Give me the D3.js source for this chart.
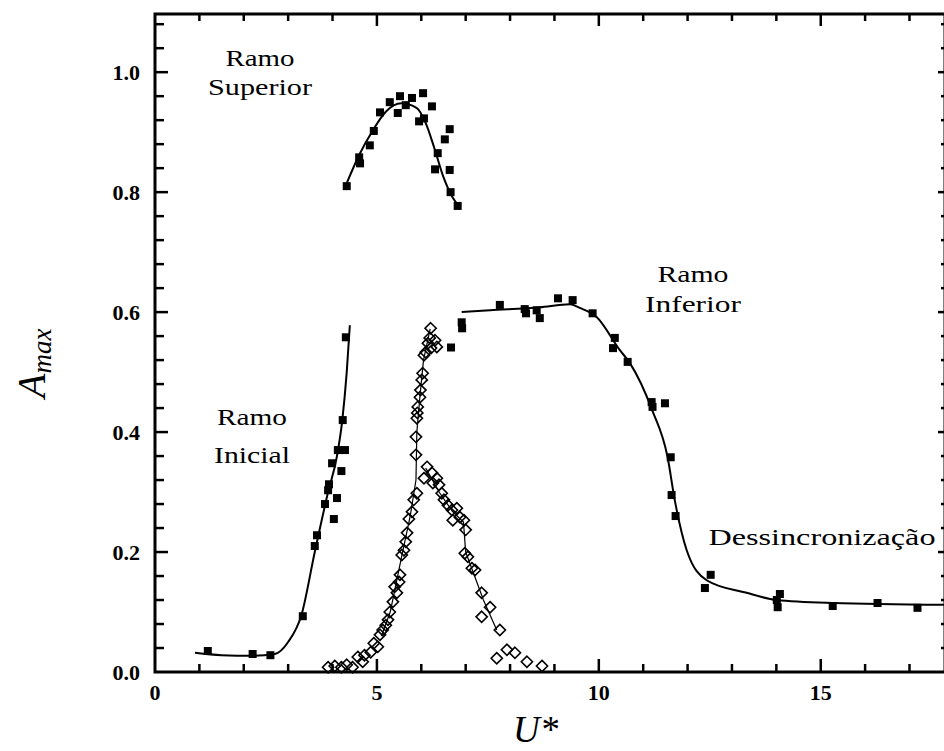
<!DOCTYPE html>
<html>
<head>
<meta charset="utf-8">
<script src="https://cdn.jsdelivr.net/npm/d3@7"></script>
<style>
html,body{margin:0;padding:0;background:#fff;}
svg{display:block;}
</style>
</head>
<body>
<svg id="chart" width="944" height="751"></svg>
<script>
// ---------- DATA ----------
const xMajorTicks = [0, 5, 10, 15];
const yMajorTicks = [0.0, 0.2, 0.4, 0.6, 0.8, 1.0];

// Ramo Inicial (filled squares)
const initialPoints = [
  [1.19,0.035],[2.2,0.030],[2.6,0.028],[3.33,0.093],[3.6,0.21],[3.65,0.228],
  [4.03,0.255],[3.83,0.28],[4.1,0.29],[3.9,0.303],[3.92,0.313],[3.99,0.348],
  [4.2,0.335],[4.12,0.37],[4.28,0.37],[4.23,0.42],[4.3,0.558]
];
const initialCurve = [
  [0.9,0.032],[1.5,0.028],[2.2,0.027],[2.7,0.030],[3.0,0.050],[3.3,0.095],
  [3.6,0.20],[3.9,0.30],[4.1,0.36],[4.22,0.42],[4.32,0.50],[4.39,0.578]
];

// Ramo Superior (filled squares)
const upperPoints = [
  [4.32,0.81],[4.62,0.848],[4.6,0.858],[4.84,0.878],[4.93,0.902],[5.07,0.933],
  [5.29,0.95],[5.52,0.96],[5.47,0.932],[5.65,0.945],[5.79,0.957],[6.04,0.965],
  [6.24,0.943],[5.95,0.918],[6.06,0.923],[6.64,0.905],[6.53,0.888],[6.37,0.865],
  [6.31,0.838],[6.64,0.837],[6.66,0.80],[6.82,0.777]
];
const upperCurve = [
  [4.32,0.815],[4.6,0.862],[4.9,0.902],[5.2,0.934],[5.55,0.948],[5.9,0.94],
  [6.1,0.915],[6.3,0.872],[6.5,0.825],[6.7,0.792],[6.83,0.778]
];

// Ramo Inferior + Dessincronização (filled squares)
const lowerPoints = [
  [6.91,0.583],[6.92,0.573],[6.67,0.541],[7.77,0.612],[8.33,0.605],[8.36,0.598],
  [8.6,0.603],[8.67,0.59],[9.08,0.623],[9.41,0.62],[9.86,0.598],[10.36,0.557],
  [10.32,0.54],[10.65,0.517],[11.19,0.45],[11.49,0.448],[11.21,0.442],
  [11.62,0.358],[11.64,0.295],[11.73,0.26],[12.52,0.162],[12.39,0.14],
  [14.08,0.13],[14.03,0.108],[14.01,0.12],[15.27,0.11],[16.28,0.115],[17.18,0.107]
];
const lowerCurve = [
  [6.91,0.60],[7.55,0.603],[8.67,0.608],[9.35,0.613],[9.57,0.607],[9.95,0.592],
  [10.47,0.537],[10.7,0.515],[11.2,0.437],[11.55,0.358],[11.71,0.287],
  [11.98,0.203],[12.43,0.153],[13.33,0.132],[14.0,0.12],[15.27,0.115],[17.8,0.112]
];

// Open diamonds
const diamondPoints = [
  [3.9,0.008],[4.05,0.01],[4.2,0.008],[4.32,0.012],[4.45,0.008],[4.57,0.025],
  [4.68,0.017],[4.72,0.028],[4.86,0.033],[4.93,0.048],[5.02,0.042],[5.07,0.062],
  [5.13,0.07],[5.2,0.078],[5.25,0.087],[5.29,0.10],[5.36,0.117],[5.45,0.132],
  [5.4,0.142],[5.5,0.15],[5.52,0.162],[5.56,0.195],[5.61,0.203],[5.65,0.217],
  [5.68,0.232],[5.72,0.255],[5.79,0.267],[5.83,0.287],[5.9,0.298],[5.88,0.362],
  [5.88,0.392],[5.9,0.423],[5.91,0.432],[5.92,0.442],[5.97,0.458],[5.98,0.47],
  [6.01,0.487],[6.03,0.498],[6.06,0.528],[6.1,0.533],[6.15,0.548],[6.19,0.557],
  [6.21,0.573],[6.31,0.553],[6.35,0.542],[6.22,0.54],
  [6.13,0.342],[6.06,0.323],[6.24,0.332],[6.35,0.323],[6.26,0.315],[6.4,0.312],
  [6.46,0.298],[6.51,0.287],[6.6,0.278],[6.69,0.27],[6.8,0.273],[6.71,0.253],
  [6.87,0.258],[6.96,0.253],[7.0,0.237],[6.98,0.198],[7.05,0.192],[7.14,0.173],
  [7.21,0.17],[7.36,0.132],[7.55,0.108],[7.36,0.092],[7.77,0.07],[7.93,0.037],
  [8.11,0.032],[7.7,0.023],[8.38,0.017],[8.72,0.01]
];
const diamondRiseLine = [
  [5.1,0.06],[5.3,0.10],[5.55,0.19],[5.75,0.26],[5.88,0.32],[5.9,0.40],
  [5.97,0.46],[6.05,0.52],[6.2,0.572]
];
const diamondFallLine = [
  [6.1,0.34],[6.4,0.30],[6.7,0.268],[6.95,0.25],[7.0,0.20],[7.2,0.16],
  [7.4,0.12],[7.7,0.07]
];

// Annotations
const annotationLines = [["Ramo","Superior"], ["Ramo","Inicial"], ["Ramo","Inferior"], ["Dessincronização"]];

// ---------- LAYOUT ----------
const FONT = "'Liberation Serif', 'Times New Roman', Times, serif";
const svg = d3.select("#chart");
const x = d3.scaleLinear().domain([0, 17.8]).range([155, 945]);
const y = d3.scaleLinear().domain([0, 1.097]).range([672, 14]);
const X0 = x.range()[0], X1 = x.range()[1], Y0 = y.range()[0], Y1 = y.range()[1];

const xMinor = d3.range(1, 18).filter(v => v % 5 !== 0);
const yMinor = d3.range(0, 28).map(i => +(i*0.04).toFixed(2)).filter(v => Math.abs(v/0.2 - Math.round(v/0.2)) > 1e-6 && v < 1.097);

const g = svg.append("g").attr("font-family", FONT).style("font-family", FONT);

// frame
g.append("rect").attr("x", X0).attr("y", Y1).attr("width", X1 - X0).attr("height", Y0 - Y1)
  .attr("fill", "none").attr("stroke", "#000").attr("stroke-width", 3);

// ticks
const tk = g.append("g").attr("stroke", "#000").attr("stroke-width", 2.5);
xMajorTicks.filter(v => v > 0).forEach(v => {
  tk.append("line").attr("x1", x(v)).attr("x2", x(v)).attr("y1", Y0).attr("y2", Y0 - 13);
  tk.append("line").attr("x1", x(v)).attr("x2", x(v)).attr("y1", Y1).attr("y2", Y1 + 12);
});
xMinor.forEach(v => {
  tk.append("line").attr("x1", x(v)).attr("x2", x(v)).attr("y1", Y0).attr("y2", Y0 - 8);
  tk.append("line").attr("x1", x(v)).attr("x2", x(v)).attr("y1", Y1).attr("y2", Y1 + 7);
});
yMajorTicks.filter(v => v > 0).forEach(v => {
  tk.append("line").attr("x1", X0).attr("x2", X0 + 13).attr("y1", y(v)).attr("y2", y(v));
  tk.append("line").attr("x1", X1).attr("x2", X1 - 7).attr("y1", y(v)).attr("y2", y(v));
});
yMinor.forEach(v => {
  tk.append("line").attr("x1", X0).attr("x2", X0 + 9).attr("y1", y(v)).attr("y2", y(v));
  tk.append("line").attr("x1", X1).attr("x2", X1 - 4).attr("y1", y(v)).attr("y2", y(v));
});

// tick labels
g.selectAll(".xl").data(xMajorTicks).enter().append("text")
  .attr("x", d => x(d)).attr("y", Y0 + 28).attr("text-anchor", "middle")
  .attr("font-size", 22).attr("font-weight", "bold").text(d => d);
g.selectAll(".yl").data(yMajorTicks).enter().append("text")
  .attr("x", 140).attr("y", d => y(d) + 8).attr("text-anchor", "end")
  .attr("font-size", 22).attr("font-weight", "bold").text(d => d.toFixed(1));

// axis titles
g.append("text").attr("x", 513).attr("y", 742).attr("font-size", 37)
  .attr("font-style", "italic").text("U*");
const yt = g.append("text").attr("transform", "translate(45,398) rotate(-90)")
  .attr("font-style", "italic");
yt.append("tspan").attr("font-size", 40).text("A");
yt.append("tspan").attr("font-size", 27).attr("dy", 6).text("max");

// curves
const line = d3.line().x(d => x(d[0])).y(d => y(d[1])).curve(d3.curveMonotoneX);
[initialCurve, upperCurve, lowerCurve].forEach(c => {
  g.append("path").attr("d", line(c)).attr("fill", "none").attr("stroke", "#000").attr("stroke-width", 2);
});
const thin = d3.line().x(d => x(d[0])).y(d => y(d[1])).curve(d3.curveLinear);
[diamondRiseLine, diamondFallLine].forEach(c => {
  g.append("path").attr("d", thin(c)).attr("fill", "none").attr("stroke", "#000").attr("stroke-width", 1.2);
});

// squares
const sq = 8;
g.selectAll(".sq").data(initialPoints.concat(upperPoints, lowerPoints)).enter().append("rect")
  .attr("x", d => x(d[0]) - sq/2).attr("y", d => y(d[1]) - sq/2)
  .attr("width", sq).attr("height", sq).attr("fill", "#000");

// diamonds
const dm = d3.symbol().type(d3.symbolDiamond2 || d3.symbolSquare2).size(80);
g.selectAll(".dm").data(diamondPoints).enter().append("path")
  .attr("d", dm())
  .attr("transform", d => `translate(${x(d[0])},${y(d[1])})`)
  .attr("fill", "none").attr("stroke", "#000").attr("stroke-width", 1.6);

// annotations
const annX = [260, 252, 693, 822];
const annY = [[66, 95], [425, 463], [282, 312], [545]];
const annW = [[69, 104], [70, 76], [71, 96], [227]];
annotationLines.forEach((lines, i) => {
  lines.forEach((t, j) => {
    g.append("text").attr("x", annX[i] - annW[i][j]/2).attr("y", annY[i][j])
      .attr("font-size", 23).attr("textLength", annW[i][j]).attr("lengthAdjust", "spacingAndGlyphs")
      .text(t);
  });
});
</script>
</body>
</html>
